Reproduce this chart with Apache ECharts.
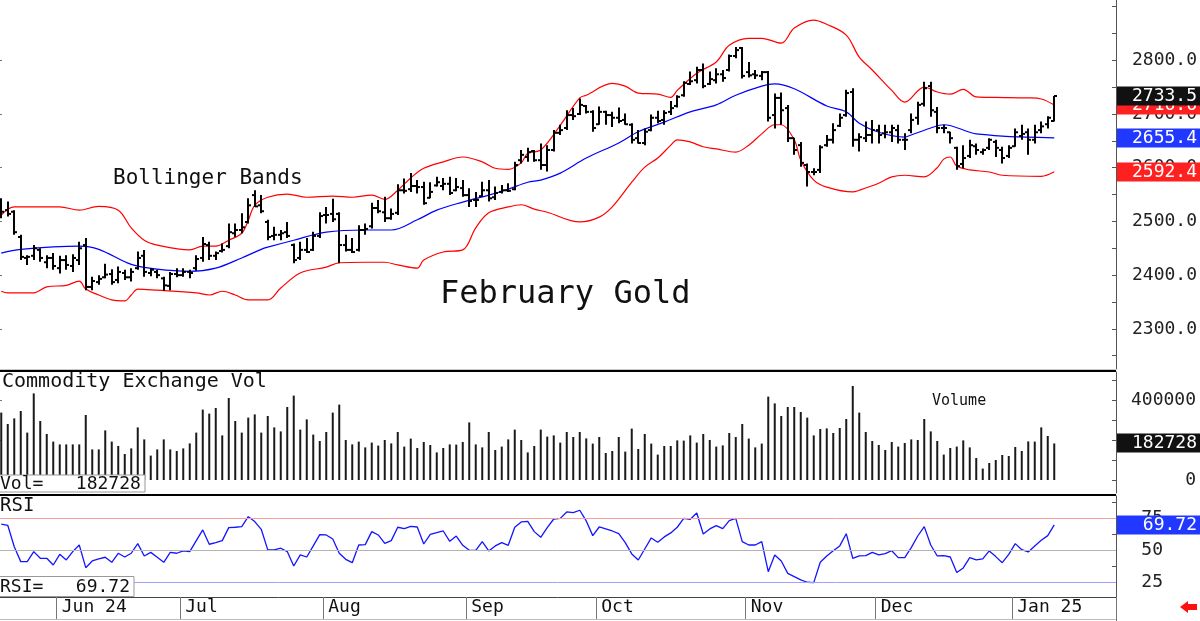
<!DOCTYPE html>
<html>
<head>
<meta charset="utf-8">
<title>February Gold</title>
<script src="https://cdn.jsdelivr.net/npm/echarts@6.0.0/dist/echarts.min.js"></script>
<style>
    html, body { margin: 0; padding: 0; background: #fff; }
    #chart { width: 1200px; height: 621px; }
</style>
</head>
<body>
<div id="chart"></div>
<script>
// month labels and the trading-day slot where each month begins
var monthLabels = ['Jun 24', 'Jul', 'Aug', 'Sep', 'Oct', 'Nov', 'Dec', 'Jan 25'];
var monthStart = [9, 28, 50, 72, 92, 115, 135, 156];
var slotCount = 172; // 163 trading days + empty room on the right

// daily OHLC, February gold
var opens = [2531,2521,2518,2471,2432,2436,2447,2424,2432,2413, 2428,2417,2428,2456,2378,2387,2396,2402,2391,2404,
    2396,2413,2436,2404,2406,2394,2380,2402,2400,2406, 2413,2432,2456,2436,2445,2454,2478,2484,2499,2549,
    2530,2499,2473,2475,2480,2456,2432,2447,2447,2473, 2512,2514,2514,2456,2447,2447,2484,2491,2525,2517,
    2506,2516,2558,2560,2566,2564,2544,2567,2566,2570, 2558,2562,2549,2540,2547,2558,2545,2555,2558,2560,
    2614,2620,2631,2614,2605,2633,2665,2674,2698,2700, 2715,2704,2681,2704,2698,2693,2689,2680,2655,2646,
    2670,2693,2689,2704,2715,2735,2756,2763,2782,2756, 2763,2774,2782,2808,2823,2778,2774,2771,2778,2698,
    2730,2711,2655,2642,2605,2592,2596,2642,2652,2678, 2698,2741,2652,2655,2661,2670,2664,2666,2670,2652,
    2670,2693,2719,2752,2704,2674,2666,2637,2607,2622, 2640,2629,2637,2648,2633,2622,2640,2659,2666,2652,
    2670,2681,2687];
var highs = [2543,2537,2521,2475,2437,2456,2450,2437,2441,2436, 2437,2439,2462,2469,2397,2400,2421,2411,2416,2410,
    2413,2444,2447,2413,2410,2397,2406,2413,2413,2410, 2437,2471,2462,2444,2459,2496,2496,2515,2543,2558,
    2549,2503,2490,2484,2499,2459,2462,2469,2481,2517, 2527,2542,2517,2475,2469,2493,2496,2535,2540,2546,
    2524,2569,2580,2590,2577,2574,2573,2583,2581,2583, 2581,2577,2562,2555,2574,2577,2565,2568,2571,2611,
    2633,2637,2633,2645,2642,2670,2680,2707,2711,2729, 2717,2707,2714,2706,2704,2712,2701,2683,2670,2673,
    2699,2706,2707,2724,2735,2761,2779,2788,2794,2779, 2785,2782,2811,2825,2825,2797,2782,2780,2780,2738,
    2740,2717,2656,2648,2608,2599,2642,2661,2683,2701, 2745,2748,2664,2686,2689,2680,2680,2680,2680,2664,
    2701,2723,2760,2760,2713,2680,2667,2639,2642,2652, 2645,2636,2655,2652,2639,2642,2673,2680,2673,2680,
    2686,2696,2733.5];
var lows = [2506,2509,2475,2428,2419,2428,2425,2413,2410,2403, 2410,2406,2419,2372,2372,2382,2394,2382,2385,2391,
    2388,2410,2397,2398,2394,2371,2372,2396,2397,2394, 2408,2425,2428,2428,2442,2450,2471,2478,2496,2527,
    2515,2465,2465,2465,2469,2422,2428,2441,2445,2469, 2496,2499,2422,2444,2441,2444,2475,2487,2515,2499,
    2503,2512,2552,2555,2552,2531,2543,2565,2558,2549, 2556,2546,2527,2527,2546,2537,2540,2552,2555,2558,
    2608,2611,2611,2596,2593,2630,2661,2670,2689,2698, 2701,2667,2680,2680,2676,2683,2680,2645,2645,2642,
    2668,2683,2680,2698,2712,2732,2754,2757,2748,2754, 2757,2760,2779,2804,2766,2768,2765,2763,2686,2673,
    2680,2648,2624,2602,2565,2586,2590,2639,2645,2676, 2695,2639,2630,2648,2645,2645,2655,2648,2645,2633,
    2664,2680,2714,2695,2664,2664,2645,2596,2599,2618, 2624,2624,2633,2620,2608,2618,2639,2652,2624,2645,
    2664,2673,2686];
var closes = [2518,2514,2480,2434,2434,2450,2432,2432,2417,2428, 2419,2432,2450,2378,2389,2393,2401,2387,2406,2396,
    2406,2432,2406,2410,2400,2381,2402,2400,2406,2404, 2430,2458,2436,2441,2447,2480,2484,2489,2530,2528,
    2519,2471,2475,2478,2473,2428,2447,2443,2473,2510, 2512,2504,2456,2447,2443,2484,2486,2525,2519,2506,
    2514,2558,2557,2566,2564,2534,2555,2573,2570,2553, 2564,2549,2538,2540,2558,2543,2553,2558,2557,2605,
    2624,2629,2614,2605,2633,2665,2670,2698,2696,2717, 2704,2674,2704,2698,2693,2687,2681,2652,2646,2667,
    2693,2687,2702,2711,2732,2758,2761,2782,2752,2765, 2774,2767,2808,2819,2771,2772,2772,2778,2693,2730,
    2707,2655,2633,2609,2592,2592,2638,2652,2670,2693, 2739,2652,2657,2661,2670,2661,2666,2674,2652,2652,
    2689,2717,2748,2707,2674,2674,2655,2603,2618,2642, 2633,2633,2652,2637,2618,2637,2666,2663,2652,2666,
    2677,2693,2733.5];

// Bollinger bands, read as [day, value]
var bbUpper = [[0,2512],[2,2527],[9,2527],[12,2521],[15,2528],[18,2521],[20,2488],[22,2465],[24,2456],[29,2447],
    [31,2454],[33,2454],[35,2465],[37,2478],[38,2502],[39,2530],[41,2545],[44,2551],[47,2545],[51,2547],
    [54,2545],[57,2549],[59,2541],[61,2558],[63,2581],[65,2599],[68,2611],[71,2620],[74,2611],[76,2599],
    [78,2597],[80,2609],[81,2627],[83,2633],[86,2679],[89,2730],[90,2735],[94,2757],[96,2752],[98,2739],
    [101,2737],[103,2731],[104,2744],[107,2776],[110,2797],[112,2828],[115,2841],[117,2841],[120,2832],[122,2860],
    [125,2875],[127,2867],[130,2847],[132,2806],[134,2782],[137,2744],[139,2722],[142,2750],[144,2741],[146,2737],
    [148,2746],[150,2732],[153,2731],[158,2730],[160,2728],[162,2716.6]];
var bbMid = [[0,2441],[3,2448],[12,2454],[15,2448],[20,2420],[24,2411],[29,2407],[33,2413],[37,2432],[40,2448],
    [41,2452],[45,2465],[50,2480],[56,2484],[60,2484],[64,2503],[67,2521],[71,2536],[75,2549],[78,2560],
    [81,2573],[83,2577],[86,2590],[90,2618],[95,2646],[98,2667],[102,2685],[106,2704],[110,2717],[113,2735],
    [117,2752],[119,2756],[122,2747],[127,2715],[130,2704],[132,2683],[135,2666],[139,2657],[140,2661],[143,2674],
    [145,2680],[149,2666],[150,2663],[154,2659],[158,2657],[162,2655.4]];
var bbLower = [[0,2370],[1,2367],[5,2367],[7,2378],[10,2381],[12,2389],[13,2374],[15,2363],[17,2354],[19,2352],
    [20,2363],[21,2374],[24,2372],[30,2367],[32,2363],[34,2370],[36,2363],[38,2354],[41,2354],[43,2376],
    [46,2404],[50,2415],[52,2423],[56,2424],[59,2424],[61,2419],[64,2413],[65,2428],[68,2443],[71,2447],
    [73,2488],[75,2516],[78,2527],[80,2531],[82,2523],[84,2517],[89,2499],[92,2508],[94,2527],[97,2573],
    [99,2601],[101,2618],[103,2642],[104,2652],[106,2648],[108,2639],[110,2635],[113,2629],[115,2642],[117,2663],
    [119,2680],[120,2680],[122,2652],[123,2614],[125,2577],[127,2564],[131,2555],[132,2558],[135,2571],[137,2583],
    [139,2586],[142,2583],[144,2600],[145,2616],[146,2620],[147,2603],[149,2596],[152,2592],[154,2586],[160,2584],
    [162,2592.4]];

// Commodity Exchange volume
var volumes = [337000,280000,308000,345000,237000,433000,295000,230000,192000,178000, 178000,178000,178000,325000,153000,153000,248000,192000,170000,130000,
    158000,263000,203000,122000,153000,203000,153000,145000,158000,183000, 237000,352000,332000,360000,223000,410000,295000,237000,312000,328000,
    237000,320000,263000,243000,365000,422000,252000,303000,227000,195000, 240000,337000,377000,200000,178000,192000,163000,187000,172000,200000,
    183000,240000,167000,207000,160000,190000,175000,138000,160000,178000, 177000,190000,288000,178000,163000,240000,150000,167000,203000,252000,
    200000,138000,170000,252000,217000,223000,187000,240000,215000,240000, 208000,182000,215000,135000,145000,215000,142000,257000,155000,230000,
    182000,127000,170000,170000,198000,197000,223000,187000,230000,200000, 167000,173000,235000,215000,280000,207000,163000,182000,417000,383000,
    320000,365000,365000,340000,312000,223000,255000,258000,235000,260000, 305000,470000,337000,240000,195000,175000,150000,190000,167000,185000,
    203000,200000,305000,243000,195000,127000,160000,167000,198000,163000, 110000,57000,85000,100000,125000,120000,165000,145000,193000,192000,
    263000,220000,182728];

// RSI
var rsi = [70.4,69.4,52.8,41.2,41.2,49.0,43.8,43.8,38.6,46.9, 42.5,49.0,54.1,36.5,41.7,43.3,44.6,40.7,47.7,44.8,
    47.7,55.2,45.6,48.4,44.6,40.7,48.4,47.7,49.5,49.0, 57.5,65.8,54.7,56.0,57.5,67.6,67.9,68.4,76.1,72.3,
    66.3,50.3,50.3,51.6,49.0,37.8,46.4,44.8,53.4,62.2, 61.9,58.8,47.7,43.0,40.4,54.1,54.4,64.5,61.9,55.4,
    57.5,67.9,66.8,68.6,68.1,54.9,62.4,63.7,65.0,57.0, 61.1,53.9,50.0,50.0,56.7,49.5,53.4,56.0,53.9,67.9,
    72.0,72.5,64.5,60.1,67.6,74.3,74.8,79.8,79.2,81.1, 72.8,61.4,68.1,66.6,65.0,62.9,56.0,47.2,42.5,51.0,
    59.6,56.2,60.4,63.5,67.9,74.8,74.1,79.0,62.7,66.6, 69.2,66.8,73.0,74.8,56.7,54.1,54.1,56.7,33.4,46.4,
    41.7,32.1,29.6,27.0,25.2,24.9,40.7,45.6,49.7,53.4, 62.9,43.8,45.6,45.9,48.4,46.4,47.4,49.7,44.3,44.3,
    52.1,61.1,68.4,54.1,45.6,45.9,44.8,32.7,36.3,44.3, 42.5,43.3,49.5,45.1,40.4,46.9,55.2,50.5,48.7,53.4,
    57.8,61.4,69.72];

// axis labels / ticks
var priceLabels = [2300, 2400, 2500, 2600, 2700, 2800];
var priceTicks = [2250,2300,2350,2400,2450,2500,2550,2600,2650,2700,2750,2800,2850,2900];
var volLabels = [0, 400000];
var volTicks = [0, 100000, 200000, 300000, 400000, 500000];
var rsiLabels = [25, 50, 75];
var rsiTicks = [25, 37.5, 50, 62.5, 75, 87.5];

var mono = "'DejaVu Sans Mono', 'Liberation Mono', monospace";

var cats = [];
for (var i = 0; i < slotCount; i++) cats.push(String(i));
var ohlc = opens.map(function (o, i) { return [i, o, highs[i], lows[i], closes[i]]; });

function isMonthStart(idx) { return monthStart.indexOf(idx) >= 0; }

function makeXAxis(grid, bottom) {
    return {
        type: 'category', gridIndex: grid, data: cats, boundaryGap: true,
        axisLine: { show: grid !== 1, lineStyle: { color: bottom ? '#444' : '#c8c8c8', width: 1 } },
        axisTick: { show: bottom, interval: function (idx) { return isMonthStart(idx); }, length: 23, lineStyle: { color: '#777' } },
        axisLabel: {
            show: bottom, interval: function (idx) { return isMonthStart(idx); },
            formatter: function (v, idx) { return monthLabels[monthStart.indexOf(idx)] || ''; },
            align: 'left', margin: 1, padding: [0, 0, 0, 2],
            fontFamily: mono, fontSize: 18, color: '#111'
        },
        splitLine: { show: false }
    };
}

function makeRightAxis(grid, min, max, labels, ticks, margin, fmt) {
    return {
        type: 'value', gridIndex: grid, position: 'right', min: min, max: max,
        axisLine: { show: true, lineStyle: { color: '#555' } },
        axisTick: { show: true, inside: true, length: 4, customValues: ticks, lineStyle: { color: '#555' } },
        axisLabel: { customValues: labels, formatter: fmt, align: 'right', margin: margin,
            fontFamily: mono, fontSize: 18, color: '#222' },
        splitLine: { show: false }
    };
}

function makeLeftAxis(grid, min, max, ticks) {
    return {
        type: 'value', gridIndex: grid, position: 'left', min: min, max: max,
        axisLine: { show: false },
        axisTick: { show: true, inside: true, length: 4, customValues: ticks, lineStyle: { color: '#777' } },
        axisLabel: { show: false },
        splitLine: { show: false }
    };
}

function renderOHLC(params, api) {
    var i = api.value(0);
    var pO = api.coord([i, api.value(1)]);
    var pH = api.coord([i, api.value(2)]);
    var pL = api.coord([i, api.value(3)]);
    var pC = api.coord([i, api.value(4)]);
    var x = Math.round(pH[0]);
    var st = { stroke: '#000', lineWidth: 2 };
    return {
        type: 'group',
        children: [
            { type: 'line', shape: { x1: x, y1: pH[1], x2: x, y2: pL[1] }, style: st },
            { type: 'line', shape: { x1: x - 3, y1: pO[1], x2: x, y2: pO[1] }, style: st },
            { type: 'line', shape: { x1: x, y1: pC[1], x2: x + 3, y2: pC[1] }, style: st }
        ]
    };
}

var priceMin = 2225.2, priceMax = 2912.3;
var volMin = -65000, volMax = 540000;
var rsiMin = 13.74, rsiMax = 92.16;

var chartDom = document.getElementById('chart');
var myChart = echarts.init(chartDom);
var option = {
    animation: false,
    backgroundColor: '#fff',
    grid: [
        { left: -2, right: 84, top: 0, height: 369, outerBoundsMode: 'none' },
        { left: -2, right: 84, top: 372, height: 121, outerBoundsMode: 'none' },
        { left: -2, right: 84, top: 496, height: 101, outerBoundsMode: 'none' }
    ],
    xAxis: [makeXAxis(0, false), makeXAxis(1, false), makeXAxis(2, true)],
    yAxis: [
        makeRightAxis(0, priceMin, priceMax, priceLabels, priceTicks, 81, function (v) { return v.toFixed(1); }),
        makeRightAxis(1, volMin, volMax, volLabels, volTicks, 80, function (v) { return String(v); }),
        makeRightAxis(2, rsiMin, rsiMax, rsiLabels, rsiTicks, 47, function (v) { return String(v); }),
        makeLeftAxis(0, priceMin, priceMax, priceLabels),
        makeLeftAxis(1, volMin, volMax, [0, 200000, 400000]),
        makeLeftAxis(2, rsiMin, rsiMax, rsiLabels)
    ],
    series: [
        { name: 'Upper', type: 'line', xAxisIndex: 0, yAxisIndex: 0, data: bbUpper, smooth: 0.35,
            symbol: 'none', lineStyle: { color: '#ff0000', width: 1.2 }, z: 2 },
        { name: 'Mid', type: 'line', xAxisIndex: 0, yAxisIndex: 0, data: bbMid, smooth: 0.35,
            symbol: 'none', lineStyle: { color: '#0000ff', width: 1.2 }, z: 2 },
        { name: 'Lower', type: 'line', xAxisIndex: 0, yAxisIndex: 0, data: bbLower, smooth: 0.35,
            symbol: 'none', lineStyle: { color: '#ff0000', width: 1.2 }, z: 2 },
        { name: 'Gold', type: 'custom', xAxisIndex: 0, yAxisIndex: 0, data: ohlc,
            renderItem: renderOHLC, encode: { x: 0, y: [1, 2, 3, 4] }, z: 3 },
        { name: 'Volume', type: 'bar', xAxisIndex: 1, yAxisIndex: 1, data: volumes,
            barWidth: 2, itemStyle: { color: '#1a1a1a' } },
        { name: 'RSI', type: 'line', xAxisIndex: 2, yAxisIndex: 2, data: rsi, symbol: 'none',
            lineStyle: { color: '#1414ff', width: 1.3 }, z: 3,
            markLine: {
                silent: true, symbol: 'none', label: { show: false },
                data: [
                    { yAxis: 75, lineStyle: { color: '#f2a0a0', width: 1, type: 'solid' } },
                    { yAxis: 50, lineStyle: { color: '#b4b4b4', width: 1, type: 'solid' } },
                    { yAxis: 25, lineStyle: { color: '#a0a0ff', width: 1, type: 'solid' } }
                ]
            }
        }
    ]
};
option && myChart.setOption(option);

// fixed text, panel separators and the value tags on the right
function label(text, x, y, size, z) {
    return { type: 'text', x: x, y: y, z: z || 50,
        style: { text: text, fill: '#111', font: size + 'px ' + mono, textAlign: 'left', align: 'left',
            textVerticalAlign: 'middle', verticalAlign: 'middle' } };
}
function hline(y, x1, x2, color, w) {
    return { type: 'line', z: 40, shape: { x1: x1, y1: y, x2: x2, y2: y }, style: { stroke: color, lineWidth: w } };
}
var tagZ = 100;
function tag(axisIdx, value, text, bg) {
    var y = Math.round(myChart.convertToPixel({ yAxisIndex: axisIdx }, value));
    tagZ += 2;
    return [
        { type: 'rect', z: tagZ, shape: { x: 1117, y: y - 9.5, width: 83, height: 19 }, style: { fill: bg } },
        { type: 'text', z: tagZ + 1, x: 1197, y: y,
            style: { text: text, fill: '#fff', font: '18px ' + mono, textAlign: 'right', align: 'right',
                textVerticalAlign: 'middle', verticalAlign: 'middle' } }
    ];
}

var lastUp = bbUpper[bbUpper.length - 1][1];
var lastMid = bbMid[bbMid.length - 1][1];
var lastLow = bbLower[bbLower.length - 1][1];
var lastClose = closes[closes.length - 1];
var lastVol = volumes[volumes.length - 1];
var lastRsi = rsi[rsi.length - 1];

var g = [
    hline(371, 0, 1116, '#000', 2),
    hline(495, 0, 1116, '#000', 2),
    hline(619.5, 0, 1116, '#bbb', 1),
    { type: 'line', z: 40, shape: { x1: 1116.5, y1: 597, x2: 1116.5, y2: 621 }, style: { stroke: '#777', lineWidth: 1 } },
    label('Bollinger Bands', 113, 179, 21),
    label('February Gold', 440, 295, 32),
    label('Commodity Exchange Vol', 2, 382, 20),
    label('Volume', 932, 401, 15),
    label('RSI', 0, 506, 19),
    { type: 'rect', z: 60, shape: { x: -1, y: 475, width: 146, height: 17 }, style: { fill: '#fff', stroke: '#999', lineWidth: 1 } },
    label('Vol=   ' + lastVol, 0, 484, 18, 61),
    { type: 'rect', z: 60, shape: { x: -1, y: 576.5, width: 135, height: 20 }, style: { fill: '#fff', stroke: '#999', lineWidth: 1 } },
    label('RSI=   ' + lastRsi.toFixed(2), 0, 587, 18, 61),
    { type: 'polygon', z: 60, shape: { points: [[1180, 607], [1188, 601], [1188, 604], [1197, 604], [1197, 610], [1188, 610], [1188, 613]] },
        style: { fill: '#ff1010' } }
];
g = g.concat(tag(0, lastUp, lastUp.toFixed(1), '#ff2020'));
g = g.concat(tag(0, lastClose, lastClose.toFixed(1), '#111'));
g = g.concat(tag(0, lastMid, lastMid.toFixed(1), '#2038ff'));
g = g.concat(tag(0, lastLow, lastLow.toFixed(1), '#ff2020'));
g = g.concat(tag(1, lastVol, String(lastVol), '#111'));
g = g.concat(tag(2, lastRsi, lastRsi.toFixed(2), '#2038ff'));

myChart.setOption({ graphic: { elements: g } });
</script>
</body>
</html>
